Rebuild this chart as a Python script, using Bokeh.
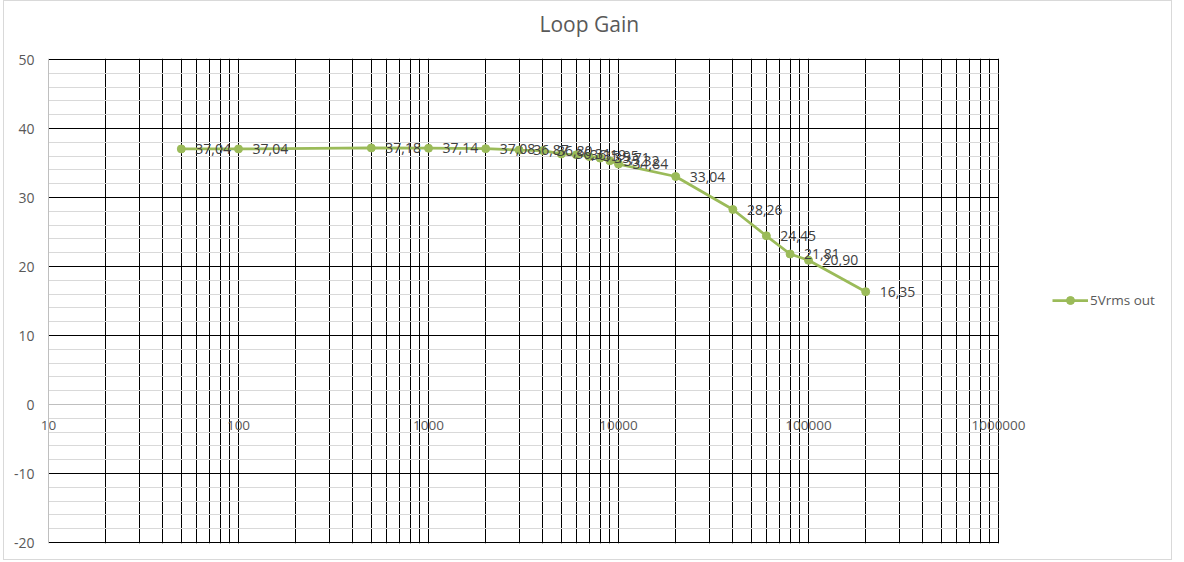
from bokeh.plotting import figure
from bokeh.models import (ColumnDataSource, FixedTicker, Grid, LabelSet,
                          Legend, LegendItem, LogAxis, Range1d, Span, Title)
from bokeh.core.properties import value
from bokeh.embed import file_html
from bokeh.resources import INLINE

# Loop gain (dB) of the 5 Vrms output versus frequency (Hz)
freq_hz = [50, 100, 500, 1000, 2000, 3000, 4000, 5000, 6000, 7000, 8000,
           9000, 10000, 20000, 40000, 60000, 80000, 100000, 200000]
gain_db = [37.04, 37.04, 37.18, 37.14, 37.08, 36.87, 36.80, 36.31, 36.19,
           35.95, 35.71, 35.32, 34.84, 33.04, 28.26, 24.45, 21.81, 20.90,
           16.35]
series_name = "5Vrms out"

y_ticks = [-20, -10, 0, 10, 20, 30, 40, 50]
y_minor = [v for v in range(-20, 51, 2) if v % 10 != 0]
x_tick_values = [10, 100, 1000, 10000, 100000, 1000000]
x_tick_labels = ["10", "100", "1000", "10000", "100000", "1000000"]
x_min, x_max = 10, 1000000
y_min, y_max = -20, 50

GREEN = "#9BBB59"
FONT = "Open Sans"
AXIS_TEXT = "#595959"
LABEL_TEXT = "#404040"

# page geometry (pixels): plot area is 950 x 483, the frame runs on to the
# right edge so the last tick label and the legend stay inside it
W, H = 1169, 560
DECADE_PX = 190
LEFT_PAD, RIGHT_PAD = 10, 175      # frame beyond the 10 Hz / 1 MHz lines
UNIT_PX = 483 / (y_max - y_min)
EDGE = 1                          # keeps the 50 / -20 grid lines inside

x_range = Range1d(10 ** (1 - LEFT_PAD / DECADE_PX),
                  10 ** (6 + RIGHT_PAD / DECADE_PX))
y_range = Range1d(y_min - EDGE / UNIT_PX, y_max + EDGE / UNIT_PX)

p = figure(width=W, height=H, x_axis_type="log",
           x_range=x_range, y_range=y_range,
           output_backend="svg", toolbar_location=None,
           min_border_left=34, min_border_right=0,
           min_border_top=57, min_border_bottom=18,
           styles={"border": "1px solid #d9d9d9", "margin-left": "3px"})
p.outline_line_color = None
p.background_fill_color = "white"
p.border_fill_color = "white"

# title, lifted clear of the plot area by an empty spacer row
p.title.text = "Loop Gain"
p.title.align = "left"
p.title.offset = 501
p.title.standoff = 0
p.title.text_font = FONT
p.title.text_font_size = "21px"
p.title.text_font_style = "normal"
p.title.text_color = AXIS_TEXT

# value axis labels
p.below[0].visible = False
p.yaxis.ticker = FixedTicker(ticks=y_ticks)
p.yaxis.axis_line_color = None
p.yaxis.major_tick_line_color = None
p.yaxis.minor_tick_line_color = None
p.yaxis.major_label_standoff = -2
p.yaxis.major_label_overrides = {v: str(v) for v in y_ticks}
p.yaxis.major_label_text_font = FONT
p.yaxis.major_label_text_font_size = "14px"
p.yaxis.major_label_text_color = AXIS_TEXT

# gray value-axis line at 10 Hz
p.add_layout(Span(location=x_min, dimension="height", line_color="#bfbfbf",
                  line_width=1))

# frequency axis crossing at 0 dB, labels hanging below the line
xaxis = LogAxis(ticker=FixedTicker(ticks=x_tick_values), fixed_location=0,
                bounds=(x_min, x_max),
                axis_line_color="#bfbfbf", axis_line_width=1,
                major_tick_line_color=None, minor_tick_line_color=None,
                major_tick_out=0, minor_tick_out=0,
                major_label_standoff=-25,
                major_label_overrides=dict(zip(x_tick_values, x_tick_labels)),
                major_label_text_font=FONT,
                major_label_text_font_size="13.5px",
                major_label_text_color=AXIS_TEXT)
p.add_layout(xaxis, "above")
p.add_layout(Title(text=" ", text_font_size="1px", standoff=18), "above")

# grid: black majors, light minor horizontals, every log step vertically
y_grid_major = [v for v in y_ticks if v != 0]
x_grid = [m * 10 ** k for k in range(1, 6) for m in range(1, 10)
          if not (k == 1 and m == 1)] + [x_max]
p.xgrid.ticker = FixedTicker(ticks=x_grid)
p.xgrid.grid_line_color = "black"
p.xgrid.grid_line_width = 1

if "cross_bounds" in Grid.properties():
    p.ygrid.ticker = FixedTicker(ticks=y_grid_major, minor_ticks=y_minor)
    p.ygrid.cross_bounds = (x_min, x_max)
    p.ygrid.grid_line_color = "black"
    p.ygrid.grid_line_width = 1
    p.ygrid.minor_grid_line_color = "#d9d9d9"
else:
    p.ygrid.visible = False
    p.segment(x0=[x_min] * len(y_minor), x1=[x_max] * len(y_minor),
              y0=y_minor, y1=y_minor, line_color="#d9d9d9", line_width=1,
              level="underlay")
    p.segment(x0=[x_min] * len(y_grid_major),
              x1=[x_max] * len(y_grid_major),
              y0=y_grid_major, y1=y_grid_major, line_color="black",
              line_width=1, level="underlay")

# data series
src = ColumnDataSource(dict(
    freq=freq_hz, gain=gain_db,
    label=[f"{g:.2f}".replace(".", ",") for g in gain_db]))
line = p.line("freq", "gain", source=src, line_color=GREEN, line_width=2.75)
dots = p.scatter("freq", "gain", source=src, size=8, fill_color=GREEN,
                 line_color=GREEN)
p.add_layout(LabelSet(x="freq", y="gain", text="label", source=src,
                      x_offset=14, text_baseline="middle",
                      text_font=value(FONT), text_font_size=value("14px"),
                      text_color=LABEL_TEXT))

legend = Legend(items=[LegendItem(label=series_name, renderers=[line, dots])],
                location=(1014, 233), padding=0, margin=0, spacing=0,
                glyph_width=36, glyph_height=20, label_standoff=2,
                border_line_color=None, background_fill_alpha=0,
                label_text_font=FONT, label_text_font_size="13.5px",
                label_text_color=AXIS_TEXT)
p.add_layout(legend)

open("out.html", "w").write(file_html(p, INLINE))
